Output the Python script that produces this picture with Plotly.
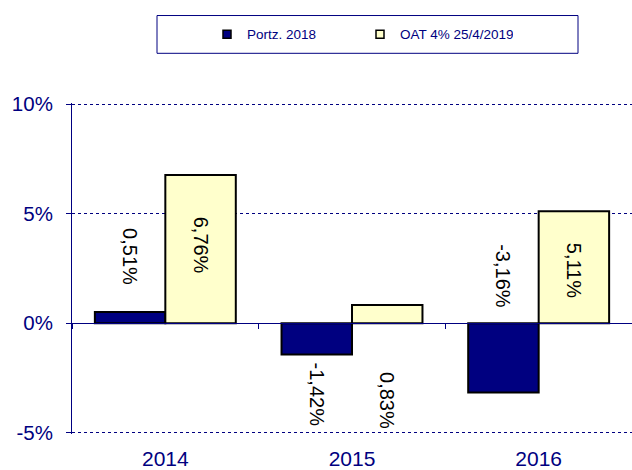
import plotly.graph_objects as go

# ---- data ----
years = ["2014", "2015", "2016"]
portz_2018 = [0.51, -1.42, -3.16]
oat_2019 = [6.76, 0.83, 5.11]
series_names = ["Portz. 2018", "OAT 4% 25/4/2019"]
portz_labels = ["0,51%", "-1,42%", "-3,16%"]
oat_labels = ["6,76%", "0,83%", "5,11%"]
# vertical centre of each (hand-placed) data label, in % units
portz_label_y = [3.06, -3.24, 2.13]
oat_label_y = [3.56, -3.51, 2.40]
y_ticks = [-5, 0, 5, 10]
y_tick_text = ["-5%", "0%", "5%", "10%"]

# ---- style / layout constants ----
W, H = 632, 470
ML, MR, MT, MB = 72, 0, 103, 34
NAVY = "#000080"
YELLOW = "#FFFFCC"
BARGAP = 0.245
YMIN, YMAX = -5.05, 10.05
XRANGE = [-0.5, len(years) - 0.5]

plot_w = W - ML - MR
plot_h = H - MT - MB
cat_w = plot_w / len(years)
bar_w = cat_w * (1 - BARGAP) / 2

fig = go.Figure()
for vals, name, col in zip([portz_2018, oat_2019], series_names, [NAVY, YELLOW]):
    fig.add_trace(go.Bar(
        x=years, y=vals, name=name, showlegend=False,
        marker=dict(color=col, line=dict(color="black", width=2)),
        hoverinfo="skip",
    ))
# legend-only entries with small square keys (as in the original)
for name, col in zip(series_names, [NAVY, YELLOW]):
    fig.add_trace(go.Scatter(
        x=[None], y=[None], name=name, mode="markers",
        marker=dict(symbol="square", size=8, color=col,
                    line=dict(color="black", width=1.5)),
        hoverinfo="skip",
    ))
# invisible helper trace for the category axis drawn along the zero line
fig.add_trace(go.Scatter(
    x=years, y=[0] * len(years), xaxis="x2", mode="markers",
    marker=dict(opacity=0), showlegend=False, hoverinfo="skip",
))

label_font = dict(family="Arial, Liberation Sans", size=20, color="black")
annotations = []
for i, (lab, ly) in enumerate(zip(portz_labels, portz_label_y)):
    annotations.append(dict(x=i, y=ly, xref="x", yref="y", text=lab,
                            showarrow=False, textangle=90, xshift=-bar_w / 2,
                            xanchor="center", yanchor="middle", font=label_font))
for i, (lab, ly) in enumerate(zip(oat_labels, oat_label_y)):
    annotations.append(dict(x=i, y=ly, xref="x", yref="y", text=lab,
                            showarrow=False, textangle=90, xshift=bar_w / 2,
                            xanchor="center", yanchor="middle", font=label_font))


def px_x(p):
    return (p - ML) / plot_w


def px_y(p):
    return (H - MB - p) / plot_h


fig.update_layout(
    width=W, height=H,
    margin=dict(l=ML, r=MR, t=MT, b=MB, pad=0),
    paper_bgcolor="white", plot_bgcolor="white",
    font=dict(family="Arial, Liberation Sans", color=NAVY),
    barmode="group", bargap=BARGAP, bargroupgap=0,
    showlegend=True,
    legend=dict(orientation="h", x=px_x(207), xanchor="left",
                y=px_y(34), yanchor="middle",
                font=dict(size=13.5, color=NAVY),
                bgcolor="rgba(0,0,0,0)", borderwidth=0,
                entrywidth=108, entrywidthmode="pixels",
                itemclick=False, itemdoubleclick=False),
    xaxis=dict(type="category", range=XRANGE, autorange=False,
               showline=False, ticks="", showgrid=False,
               zeroline=False, tickfont=dict(size=21, color=NAVY),
               ticklabelstandoff=10, fixedrange=True),
    xaxis2=dict(type="category", overlaying="x", range=XRANGE, autorange=False,
                anchor="free", position=(0 - YMIN) / (YMAX - YMIN), side="bottom",
                showline=True, linecolor=NAVY, linewidth=1,
                ticks="outside", tickson="boundaries", ticklen=5,
                tickcolor=NAVY, showticklabels=False, showgrid=False,
                zeroline=False, fixedrange=True),
    yaxis=dict(range=[YMIN, YMAX], autorange=False,
               tickvals=y_ticks, ticktext=y_tick_text,
               showline=True, linecolor=NAVY, linewidth=1,
               ticks="outside", ticklen=5, tickcolor=NAVY,
               showgrid=True, gridcolor=NAVY, griddash="dot", gridwidth=1,
               zeroline=True, zerolinecolor=NAVY, zerolinewidth=1,
               tickfont=dict(size=20.5, color=NAVY),
               ticklabelstandoff=9, fixedrange=True),
    shapes=[dict(type="rect", xref="paper", yref="paper",
                 x0=px_x(157), x1=px_x(578), y0=px_y(53), y1=px_y(15),
                 line=dict(color=NAVY, width=1), fillcolor="rgba(0,0,0,0)",
                 layer="above")],
    annotations=annotations,
)

fig.write_html("out.html", config={"displayModeBar": False})
